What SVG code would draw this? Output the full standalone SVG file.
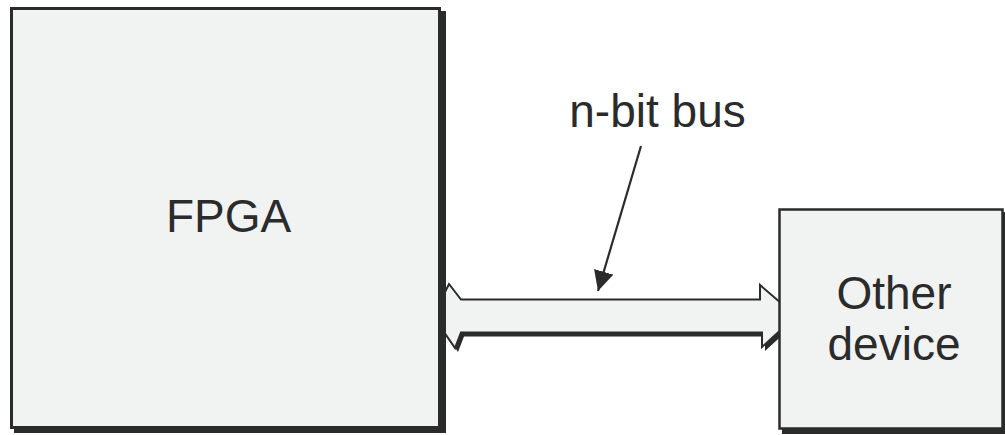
<svg xmlns="http://www.w3.org/2000/svg" width="1005" height="435" viewBox="0 0 1005 435">
<style>
.box{fill:#f1f2f2;stroke:#2b2b2b;stroke-width:3}
.shadow{fill:#2b2b2b}
.lbl{font-family:"Liberation Sans",Arial,sans-serif;font-size:46px;fill:#2b2b2b;text-anchor:middle}
.bus{fill:#f1f2f2;stroke:#2b2b2b;stroke-width:2;stroke-linejoin:miter}
.ptr{stroke:#2b2b2b;stroke-width:2.2;fill:none}
</style>
<defs>
<marker id="ah" viewBox="0 0 20 20" refX="20" refY="10" markerWidth="20" markerHeight="20" markerUnits="userSpaceOnUse" orient="auto">
<path d="M0,0 L20,10 L0,20 Z" fill="#2b2b2b"/>
</marker>
</defs>
<g id="connectors">
<g id="bus">
<polygon class="shadow" transform="translate(3,4)" points="433,316 449,284 461,299.5 760,299.5 760,285 796,316 762,347 762,332.5 461,332.5 455,348"/>
<polygon class="bus" points="433,316 449,284 461,299.5 760,299.5 760,285 796,316 762,347 762,332.5 461,332.5 455,348"/>
</g>
<line id="pointer" class="ptr" x1="641" y1="146" x2="598" y2="291" marker-end="url(#ah)"/>
</g>
<g id="fpga">
<rect class="shadow" x="14" y="11" width="432" height="422"/>
<rect class="box" x="11.5" y="8.5" width="428" height="419"/>
<text class="lbl" x="228.5" y="232">FPGA</text>
</g>
<g id="other-device">
<rect class="shadow" x="782" y="212" width="226" height="222"/>
<rect class="box" x="779.5" y="209.5" width="223" height="219" style="stroke-width:2.5"/>
<text class="lbl" x="894" y="309">Other</text>
<text class="lbl" x="894" y="360">device</text>
</g>
<g id="bus-label">
<text class="lbl" x="657.5" y="127">n-bit bus</text>
</g>
</svg>
